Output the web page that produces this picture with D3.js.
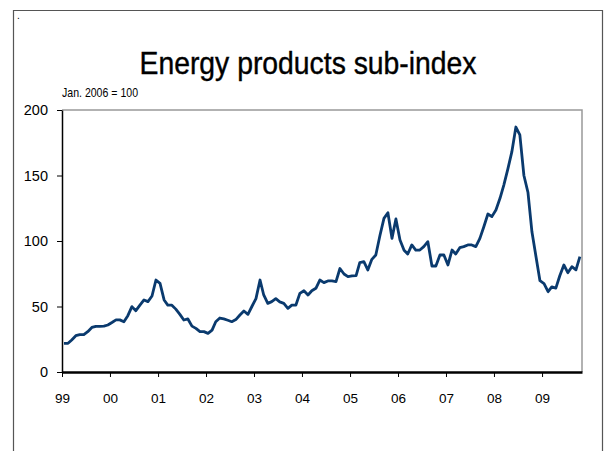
<!DOCTYPE html>
<html>
<head>
<meta charset="utf-8">
<script src="https://cdn.jsdelivr.net/npm/d3@7/dist/d3.min.js"></script>
<style>
  body { margin: 0; background: #fff; }
  text { font-family: "Liberation Sans", Arial, sans-serif; fill: #000; }
</style>
</head>
<body>
<div id="chart"></div>
<script>
// monthly sub-index, Jan 1999 to Oct 2009 (Jan. 2006 = 100)
var values = [
  21.9, 21.9, 24.5, 27.7, 28.5, 28.5, 30.8, 34.0, 34.9, 34.9, 35.0, 35.9,
  37.8, 39.8, 39.8, 38.4, 43.0, 49.9, 46.8, 51.0, 55.0, 53.7, 58.0, 70.2,
  67.7, 55.0, 51.1, 51.0, 48.0, 44.0, 39.7, 40.5, 35.0, 33.3, 30.8, 30.8,
  29.5, 32.0, 38.4, 41.2, 40.5, 39.5, 38.4, 40.0, 43.5, 46.6, 44.0, 50.0,
  56.0, 70.2, 58.8, 52.4, 53.7, 56.0, 53.5, 52.4, 48.6, 51.1, 51.1, 60.0,
  62.0, 58.8, 62.0, 63.9, 70.2, 68.2, 69.5, 69.5, 69.0, 79.0, 74.8, 72.8,
  73.3, 73.5, 83.5, 84.2, 77.9, 86.0, 89.3, 104.0, 117.3, 121.6, 102.0, 116.8,
  100.8, 93.0, 90.1, 97.0, 93.1, 93.1, 95.7, 99.5, 80.9, 80.9, 89.3, 89.3,
  81.7, 93.1, 90.1, 94.9, 95.7, 97.0, 97.0, 95.7, 102.0, 110.9, 120.6, 118.6,
  123.7, 132.6, 142.7, 155.0, 168.0, 187.0, 181.0, 150.0, 137.0, 107.0, 88.0, 69.7,
  67.5, 61.3, 65.0, 64.0, 73.5, 81.7, 75.8, 80.4, 78.0, 88.0
];
var yearLabels = ["99", "00", "01", "02", "03", "04", "05", "06", "07", "08", "09"];
var yTicks = [0, 50, 100, 150, 200];

var width = 606, height = 451;
var margin = {top: 110, right: 24, bottom: 79, left: 62};
var plotW = width - margin.left - margin.right,
    plotH = height - margin.top - margin.bottom;

var svg = d3.select("#chart")
  .append("svg")
    .attr("width", width)
    .attr("height", height);

// outer frame
svg.append("path")
  .attr("d", "M13.5," + height + "V10.5H602.5V" + height)
  .attr("fill", "none")
  .attr("stroke", "#555")
  .attr("stroke-width", 1.2);

svg.append("text")
  .attr("x", 17).attr("y", 19)
  .style("font-size", "10px")
  .text(".");

// title
svg.append("text")
  .attr("x", 308).attr("y", 74)
  .attr("text-anchor", "middle")
  .attr("textLength", 337)
  .attr("lengthAdjust", "spacingAndGlyphs")
  .style("font-size", "32px")
  .style("stroke", "#000")
  .style("stroke-width", 0.4)
  .text("Energy products sub-index");

svg.append("text")
  .attr("x", 62).attr("y", 97)
  .attr("textLength", 76)
  .attr("lengthAdjust", "spacingAndGlyphs")
  .style("font-size", "13px")
  .text("Jan. 2006 = 100");

var g = svg.append("g")
  .attr("transform", "translate(" + margin.left + "," + margin.top + ")");

// x scale over months, year ticks on Jan 1
var x = d3.scaleTime()
  .domain([new Date(1999, 0, 1), new Date(2009, 10, 1)])
  .range([0, plotW]);

var y = d3.scaleLinear()
  .domain([0, 200])
  .range([plotH, 0]);

// plot area border (top and right)
g.append("path")
  .attr("d", "M0," + y(200) + "H" + plotW + "V" + plotH)
  .attr("fill", "none")
  .attr("stroke", "#999")
  .attr("stroke-width", 1.5);

var yAxis = g.append("g")
  .call(d3.axisLeft(y).tickValues(yTicks).tickSize(5).tickSizeOuter(0).tickPadding(9));
yAxis.select(".domain").attr("stroke", "#000").attr("stroke-width", 1.5);
yAxis.selectAll("text").style("font-size", "14.5px");

var xAxis = g.append("g")
  .attr("transform", "translate(0," + plotH + ")")
  .call(d3.axisBottom(x)
    .tickValues(yearLabels.map(function(d, i) { return new Date(1999 + i, 0, 1); }))
    .tickFormat(function(d, i) { return yearLabels[i]; })
    .tickSize(5).tickSizeOuter(0).tickPadding(16));
xAxis.select(".domain").attr("stroke", "#000").attr("stroke-width", 2.5);
xAxis.selectAll("text").style("font-size", "13.5px");

// series line, points at mid-month
var line = d3.line()
  .x(function(d, i) { return x(new Date(1999, i, 16)); })
  .y(function(d) { return y(d); });

g.append("path")
  .datum(values)
  .attr("d", line)
  .attr("fill", "none")
  .attr("stroke", "#0a3a6e")
  .attr("stroke-width", 2.8)
  .attr("stroke-linejoin", "round");
</script>
</body>
</html>
